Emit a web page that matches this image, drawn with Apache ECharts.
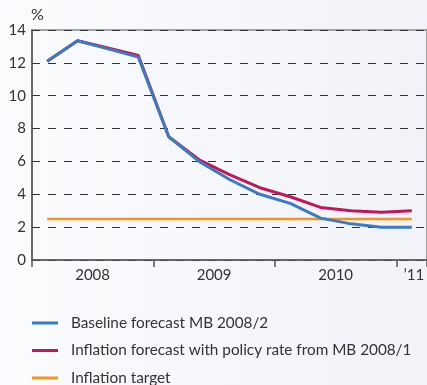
<!DOCTYPE html>
<html><head><meta charset="utf-8">
<script src="https://cdn.jsdelivr.net/npm/echarts@6/dist/echarts.min.js"></script>
<style>html,body{margin:0;padding:0;}#c{width:427px;height:385px;}</style>
</head><body><div id="c"></div>
<script>
const quarters = ['2008Q1','2008Q2','2008Q3','2008Q4','2009Q1','2009Q2','2009Q3','2009Q4','2010Q1','2010Q2','2010Q3','2010Q4','2011Q1'];
const baseline = [12.1, 13.35, 12.85, 12.35, 7.5, 6.0, 4.9, 4.0, 3.45, 2.55, 2.2, 2.0, 2.0];
const policyRate = [12.1, 13.35, 12.9, 12.45, 7.5, 6.1, 5.2, 4.4, 3.85, 3.2, 3.0, 2.9, 3.0];
const target = [2.5, 2.5, 2.5, 2.5, 2.5, 2.5, 2.5, 2.5, 2.5, 2.5, 2.5, 2.5, 2.5];
const yearLabels = {1: '2008', 5: '2009', 9: '2010', 12: '\u201911'};
const seriesNames = ['Baseline forecast MB 2008/2', 'Inflation forecast with policy rate from MB 2008/1', 'Inflation target'];
const FONT = 'Lato';
const chart = echarts.init(document.getElementById('c'), null, {renderer: 'canvas'});
chart.setOption({
  animation: false,
  backgroundColor: new echarts.graphic.LinearGradient(0, 0, 1, 0, [{offset: 0, color: '#fafbfd'}, {offset: 1, color: '#f1f3f8'}]),
  title: {text: '%', left: 31, top: 7, padding: 0, textStyle: {fontFamily: FONT, fontSize: 16, fontWeight: 'normal', color: '#333'}},
  grid: {left: 32, right: -3, top: 30, bottom: 125, show: true, borderColor: '#888', borderWidth: 1.5, backgroundColor: 'transparent'},
  legend: {
    orient: 'vertical', left: 32, top: 315, height: 90, padding: 0, itemWidth: 26, itemHeight: 3, itemGap: 11.5, icon: 'rect',
    textStyle: {fontFamily: FONT, fontSize: 15.3, color: '#333', padding: [0, 0, 0, 8], lineHeight: 16},
    data: seriesNames
  },
  xAxis: {
    type: 'category', data: quarters, boundaryGap: true,
    axisLine: {lineStyle: {color: '#555', width: 1.5}},
    axisTick: {show: true, length: 7, interval: (i) => i % 4 === 0, lineStyle: {color: '#555', width: 1.5}},
    axisLabel: {
      interval: (i) => yearLabels[i] !== undefined,
      margin: 8,
      fontFamily: FONT, fontSize: 15, color: '#333',
      formatter: (v, i) => i === 12 ? '{n|' + yearLabels[i] + '}' : '{s|' + yearLabels[i] + '}',
      rich: {s: {padding: [0, 0, 0, 30], fontFamily: FONT, fontSize: 15, color: '#333'}, n: {padding: [0, 0, 0, 4], fontFamily: FONT, fontSize: 15, color: '#333'}}
    },
    splitLine: {show: false}
  },
  yAxis: {
    type: 'value', min: 0, max: 14, interval: 2,
    axisLine: {show: true, lineStyle: {color: '#555', width: 1.5}},
    axisTick: {show: false},
    axisLabel: {fontFamily: FONT, fontSize: 15, color: '#333', margin: 6},
    splitLine: {show: true, lineStyle: {color: '#333', type: [8, 8], width: 1}}
  },
  series: [
    {name: seriesNames[0], type: 'line', data: baseline, showSymbol: false, symbol: 'none', z: 5, color: '#3b7bc2', lineStyle: {width: 3, color: '#3b7bc2'}},
    {name: seriesNames[1], type: 'line', data: policyRate, showSymbol: false, symbol: 'none', z: 4, color: '#c2185b', lineStyle: {width: 3, color: '#c2185b'}},
    {name: seriesNames[2], type: 'line', data: target, showSymbol: false, symbol: 'none', z: 3, color: '#f7941d', lineStyle: {width: 2.5, color: '#f7941d'}}
  ]
});
</script></body></html>
